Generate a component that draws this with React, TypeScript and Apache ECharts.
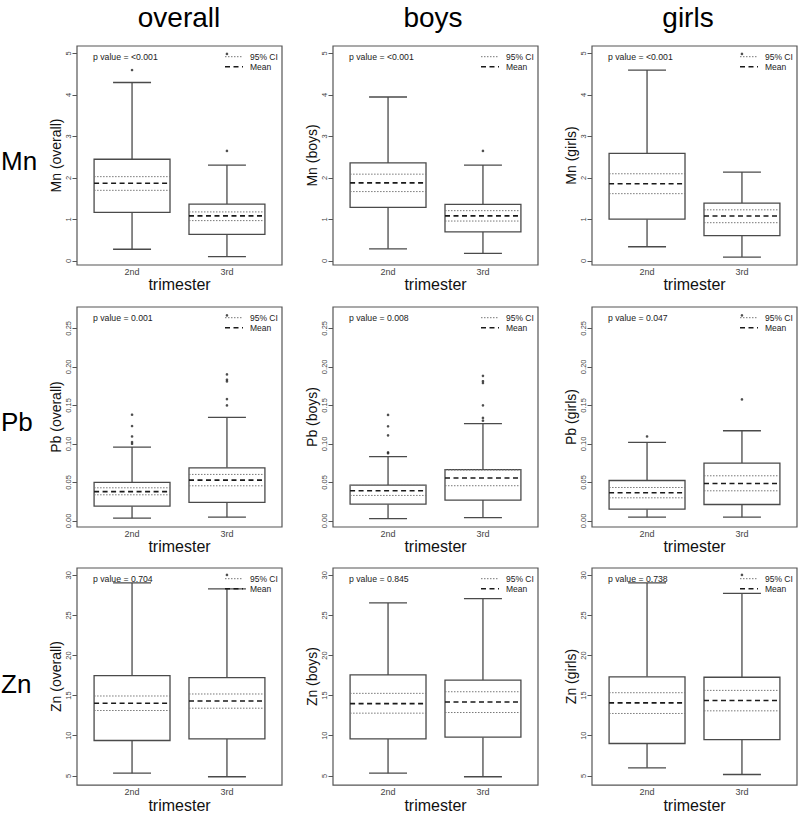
import React, { useEffect, useRef } from 'react';
import * as echarts from 'echarts';

const trimesters = ['2nd', '3rd'];
const groups = ['overall', 'boys', 'girls'];
const metals = ['Mn', 'Pb', 'Zn'];

// per trimester: [lower whisker, Q1, Q3, upper whisker, mean, 95% CI low, 95% CI high]
const mnOverall = [[0.28, 1.17, 2.45, 4.30, 1.87, 1.70, 2.03], [0.10, 0.64, 1.37, 2.31, 1.085, 0.97, 1.18]];
const mnBoys = [[0.29, 1.29, 2.36, 3.95, 1.88, 1.67, 2.09], [0.18, 0.70, 1.36, 2.31, 1.085, 0.96, 1.21]];
const mnGirls = [[0.34, 1.005, 2.59, 4.60, 1.86, 1.62, 2.10], [0.09, 0.61, 1.39, 2.14, 1.08, 0.92, 1.23]];
const pbOverall = [[0.0035, 0.019, 0.050, 0.0958, 0.038, 0.0338, 0.0429], [0.0048, 0.0239, 0.0689, 0.1343, 0.0529, 0.0455, 0.0603]];
const pbBoys = [[0.003, 0.0217, 0.0464, 0.0833, 0.039, 0.033, 0.046], [0.0043, 0.027, 0.0664, 0.1263, 0.0556, 0.0456, 0.066]];
const pbGirls = [[0.0048, 0.0152, 0.0524, 0.1018, 0.0364, 0.0299, 0.0433], [0.0048, 0.0212, 0.075, 0.117, 0.0485, 0.039, 0.0585]];
const znOverall = [[5.33, 9.40, 17.5, 29.05, 14.05, 13.14, 14.95], [4.88, 9.6, 17.25, 28.3, 14.33, 13.43, 15.2]];
const znBoys = [[5.33, 9.6, 17.58, 26.55, 14.0, 12.81, 15.28], [4.88, 9.81, 16.92, 27.08, 14.21, 12.89, 15.48]];
const znGirls = [[5.99, 9.03, 17.34, 29.05, 14.09, 12.77, 15.36], [5.16, 9.52, 17.29, 27.74, 14.38, 13.1, 15.65]];

// outliers per trimester
const mnOverallOut = [[4.6], [2.65, 4.99]];
const mnBoysOut = [[], [2.65]];
const mnGirlsOut = [[], [4.99]];
const pbOverallOut = [[0.1001, 0.1023, 0.1096, 0.1231, 0.1378], [0.1499, 0.1581, 0.1811, 0.1833, 0.1902, 0.2669]];
const pbBoysOut = [[0.0877, 0.089, 0.111, 0.1228, 0.1376], [0.130, 0.1337, 0.150, 0.179, 0.1813, 0.1883]];
const pbGirlsOut = [[0.1096], [0.1577, 0.2669]];
const znOverallOut = [[], [30.05]];
const znBoysOut = [[], []];
const znGirlsOut = [[], [30.05]];

const pValuesMn = ['<0.001', '<0.001', '<0.001'];
const pValuesPb = ['0.001', '0.008', '0.047'];
const pValuesZn = ['0.704', '0.845', '0.738'];

const mnTicks = [0, 1, 2, 3, 4, 5];
const pbTicks = [0, 0.05, 0.1, 0.15, 0.2, 0.25];
const znTicks = [5, 10, 15, 20, 25, 30];

const statsByMetal = [[mnOverall, mnBoys, mnGirls], [pbOverall, pbBoys, pbGirls], [znOverall, znBoys, znGirls]];
const outByMetal = [[mnOverallOut, mnBoysOut, mnGirlsOut], [pbOverallOut, pbBoysOut, pbGirlsOut], [znOverallOut, znBoysOut, znGirlsOut]];
const pByMetal = [pValuesMn, pValuesPb, pValuesZn];
const ticksByMetal = [mnTicks, pbTicks, znTicks];

// layout
const FONT = '"Liberation Sans", Arial, sans-serif';
const colLeft = [77, 333, 592];
const plotW = 205;
const rowTop = [46, 307, 568];
const plotH = [219, 220, 220];
const yRange = [[-0.1, 5.18], [-0.008, 0.2777], [3.84, 30.91]];
const titleX = [179, 433, 688];
const rowLabelY = [161, 422, 684];

const BOX = '#4a4a4a';

function renderBox(params: any, api: any) {
  const x = api.value(0);
  const lo = api.value(1), q1 = api.value(2), q3 = api.value(3), hi = api.value(4);
  const mean = api.value(5), ciLo = api.value(6), ciHi = api.value(7);
  const c = (xx: number, yy: number) => api.coord([xx, yy]);
  const line = (x1: number, y1: number, x2: number, y2: number, style: any) => {
    const a = c(x1, y1), b = c(x2, y2);
    return { type: 'line', shape: { x1: a[0], y1: a[1], x2: b[0], y2: b[1] }, style };
  };
  const solid = { stroke: BOX, lineWidth: 1.3, fill: null };
  const tl = c(x - 0.4, q3), br = c(x + 0.4, q1);
  return {
    type: 'group',
    children: [
      line(x, q3, x, hi, solid),
      line(x, lo, x, q1, solid),
      line(x - 0.2, hi, x + 0.2, hi, solid),
      line(x - 0.2, lo, x + 0.2, lo, solid),
      { type: 'rect', shape: { x: tl[0], y: tl[1], width: br[0] - tl[0], height: br[1] - tl[1] }, style: { stroke: BOX, lineWidth: 1.3, fill: '#fff' } },
      line(x - 0.4, ciLo, x + 0.4, ciLo, { stroke: '#777', lineWidth: 1, lineDash: [1.5, 1.5] }),
      line(x - 0.4, ciHi, x + 0.4, ciHi, { stroke: '#777', lineWidth: 1, lineDash: [1.5, 1.5] }),
      line(x - 0.4, mean, x + 0.4, mean, { stroke: '#1a1a1a', lineWidth: 1.6, lineDash: [5, 3.5] }),
    ],
  };
}

function fmtTick(m: number, v: number) {
  if (m === 1) return v.toFixed(2);
  return String(Math.round(v));
}

function buildOption() {
  const grid: any[] = [];
  const xAxis: any[] = [];
  const yAxis: any[] = [];
  const series: any[] = [];
  const graphic: any[] = [];

  groups.forEach((g, ci) => {
    graphic.push({ type: 'text', x: titleX[ci], y: 17, style: { text: g, fontSize: 28, fontFamily: FONT, fill: '#000', align: 'center', verticalAlign: 'middle' } });
  });
  metals.forEach((m, ri) => {
    graphic.push({ type: 'text', x: 1, y: rowLabelY[ri], style: { text: m, fontSize: 26, fontFamily: FONT, fill: '#000', align: 'left', verticalAlign: 'middle' } });
  });

  metals.forEach((m, ri) => {
    groups.forEach((g, ci) => {
      const idx = grid.length;
      const left = colLeft[ci];
      const top = rowTop[ri];
      grid.push({ left, top, width: plotW, height: plotH[ri], show: true, borderColor: '#555', borderWidth: 1.2, backgroundColor: 'transparent' });
      xAxis.push({
        gridIndex: idx, type: 'value', min: 0.42, max: 2.58,
        name: 'trimester', nameLocation: 'middle', nameGap: 7,
        nameTextStyle: { fontSize: 16, fontFamily: FONT, color: '#111', verticalAlign: 'top' },
        axisLine: { show: false }, axisTick: { show: false }, splitLine: { show: false },
        axisLabel: { customValues: [1, 2], formatter: (v: number) => trimesters[Math.round(v) - 1], fontSize: 9, fontFamily: FONT, color: '#444', margin: 2 },
      });
      const ticks = ticksByMetal[ri];
      yAxis.push({
        gridIndex: idx, type: 'value', min: yRange[ri][0], max: yRange[ri][1],
        name: `${m} (${g})`, nameLocation: 'middle', nameGap: 13,
        nameTextStyle: { fontSize: 14, fontFamily: FONT, color: '#111' },
        axisLine: { show: false }, splitLine: { show: false },
        axisTick: { show: true, customValues: ticks, length: 4.5, lineStyle: { color: '#555', width: 1 } },
        axisLabel: { customValues: ticks, rotate: 90, formatter: (v: number) => fmtTick(ri, v), fontSize: 7.5, fontFamily: FONT, color: '#444', margin: 5 },
      });
      const stats = statsByMetal[ri][ci];
      series.push({
        type: 'custom', xAxisIndex: idx, yAxisIndex: idx, renderItem: renderBox,
        encode: { x: 0, y: [1, 2, 3, 4, 5, 6, 7] },
        data: stats.map((s, k) => [k + 1, ...s]),
        z: 2,
      });
      const outs = outByMetal[ri][ci];
      const pts: number[][] = [];
      outs.forEach((arr, k) => arr.forEach((v) => pts.push([k + 1, v])));
      series.push({
        type: 'scatter', xAxisIndex: idx, yAxisIndex: idx, data: pts,
        symbol: 'circle', symbolSize: 2.6, itemStyle: { color: '#222' }, z: 3,
      });
      const right = left + plotW;
      graphic.push({ type: 'text', x: left + 16, y: top + 10.7, z: 10, style: { text: `p value = ${pByMetal[ri][ci]}`, fontSize: 8.7, fontFamily: FONT, fill: '#222', align: 'left', verticalAlign: 'middle' } });
      graphic.push({ type: 'line', z: 10, shape: { x1: right - 57, y1: top + 10.7, x2: right - 39, y2: top + 10.7 }, style: { stroke: '#777', lineWidth: 1, lineDash: [1.5, 1.5] } });
      graphic.push({ type: 'line', z: 10, shape: { x1: right - 57, y1: top + 20.7, x2: right - 39, y2: top + 20.7 }, style: { stroke: '#1a1a1a', lineWidth: 1.6, lineDash: [5, 3.5] } });
      graphic.push({ type: 'text', x: right - 32, y: top + 10.7, z: 10, style: { text: '95% CI', fontSize: 8.5, fontFamily: FONT, fill: '#222', align: 'left', verticalAlign: 'middle' } });
      graphic.push({ type: 'text', x: right - 32, y: top + 20.7, z: 10, style: { text: 'Mean', fontSize: 8.5, fontFamily: FONT, fill: '#222', align: 'left', verticalAlign: 'middle' } });
    });
  });

  return { animation: false, backgroundColor: '#fff', textStyle: { fontFamily: FONT }, grid, xAxis, yAxis, series, graphic };
}

export default function App() {
  const ref = useRef<HTMLDivElement>(null);
  useEffect(() => {
    document.body.style.margin = '0';
    if (!ref.current) return;
    const chart = echarts.init(ref.current, undefined, { renderer: 'svg' });
    chart.setOption(buildOption() as any);
    return () => chart.dispose();
  }, []);
  return <div ref={ref} style={{ width: 800, height: 814 }} />;
}
